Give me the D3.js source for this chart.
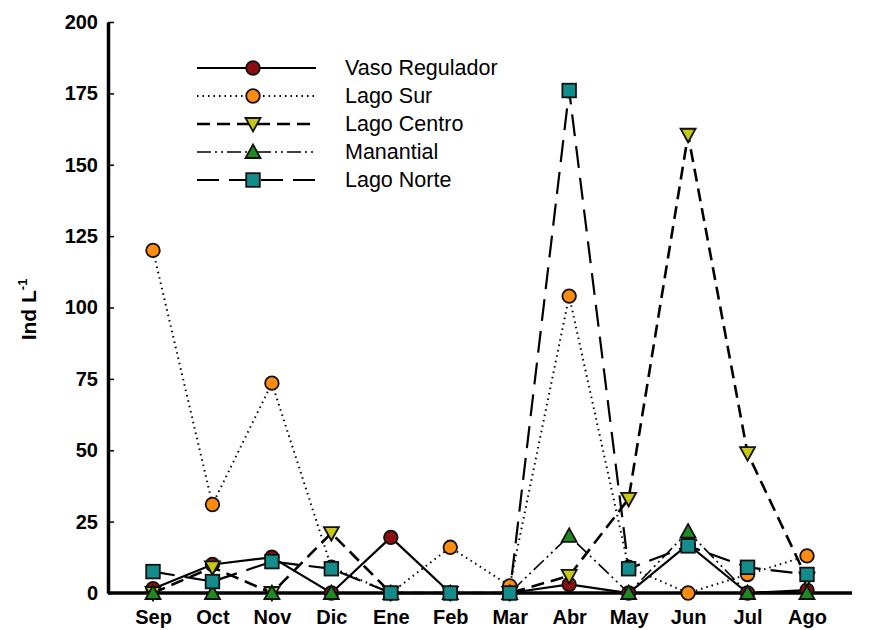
<!DOCTYPE html>
<html>
<head>
<meta charset="utf-8">
<script src="https://cdn.jsdelivr.net/npm/d3@7"></script>
<style>
  body { margin: 0; background: #fff; }
  svg { font-family: "Liberation Sans", Arial, sans-serif; }
</style>
</head>
<body>
<div id="chart"></div>
<script>
// ---------- data ----------
const months = ["Sep", "Oct", "Nov", "Dic", "Ene", "Feb", "Mar", "Abr", "May", "Jun", "Jul", "Ago"];
const yTicks = [0, 25, 50, 75, 100, 125, 150, 175, 200];

const vasoRegulador = [1.5, 10, 12.5, 0, 19.5, 0, 0, 3, 0, 17, 0, 1];
const lagoSur       = [120, 31, 73.5, 9, 0, 16, 2.5, 104, 9, 0, 6.5, 13];
const lagoCentro    = [0, 9, 0, 21, 0, 0, 0, 6, 33, 160.5, 49, 5];
const manantial     = [0, 0, 0, 0, 0, 0, 0, 20, 0, 21.5, 0, 0];
const lagoNorte     = [7.5, 4, 11, 8.5, 0, 0, 0, 176, 8.5, 16.5, 9, 6.5];

const series = [
  { name: "Vaso Regulador", values: vasoRegulador, color: "#8b0f0f", shape: "circle",   dash: null,                width: 2.2 },
  { name: "Lago Sur",       values: lagoSur,       color: "#ff8c10", shape: "circle",   dash: "1.5,4",             width: 2 },
  { name: "Lago Centro",    values: lagoCentro,    color: "#c8c814", shape: "triDown",  dash: "13,7",              width: 2.6 },
  { name: "Manantial",      values: manantial,     color: "#1f8a1f", shape: "triUp",    dash: "14,4,2,4,2,4",      width: 1.6 },
  { name: "Lago Norte",     values: lagoNorte,     color: "#138c8c", shape: "square",   dash: "22,10",             width: 2.2 }
];

// ---------- layout ----------
const W = 874, H = 630;
const plot = { left: 108, right: 852, top: 22, bottom: 593 };

const svg = d3.select("#chart").append("svg")
  .attr("width", W)
  .attr("height", H);

const x = d3.scalePoint()
  .domain(months)
  .range([plot.left, plot.right])
  .padding(0.757);

const y = d3.scaleLinear()
  .domain([0, 200])
  .range([plot.bottom, plot.top]);

// ---------- axes ----------
const yAxis = svg.append("g")
  .attr("transform", `translate(${plot.left},0)`)
  .call(d3.axisLeft(y).tickValues(yTicks).tickSizeInner(-6).tickSizeOuter(0).tickPadding(10));
yAxis.select(".domain").attr("stroke", "#000").attr("stroke-width", 3.5);
yAxis.selectAll(".tick line").attr("stroke", "#000").attr("stroke-width", 1.5);
yAxis.selectAll(".tick text")
  .attr("font-size", 20).attr("font-weight", "bold")
  .attr("font-family", "Liberation Sans, Arial, sans-serif").attr("fill", "#000");

const xAxis = svg.append("g")
  .attr("transform", `translate(0,${plot.bottom})`)
  .call(d3.axisBottom(x).tickSize(0).tickPadding(17));
xAxis.select(".domain").attr("stroke", "#000").attr("stroke-width", 3.5)
  .attr("d", `M${plot.left},0H${plot.right}`);
xAxis.selectAll(".tick text")
  .attr("font-size", 20).attr("font-weight", "bold")
  .attr("font-family", "Liberation Sans, Arial, sans-serif").attr("fill", "#000");

// y title with superscript
svg.append("text")
  .attr("transform", `translate(36,${(plot.top + plot.bottom) / 2 + 2}) rotate(-90)`)
  .attr("text-anchor", "middle")
  .attr("font-size", 21).attr("font-weight", "bold")
  .text("Ind L")
  .append("tspan").attr("dy", -9).attr("font-size", 13).text("-1");

// ---------- markers ----------
function drawMarker(g, shape, color, cx, cy) {
  const s = 7.5;
  let m;
  if (shape === "circle") {
    m = g.append("circle").attr("cx", cx).attr("cy", cy).attr("r", 6.8);
  } else if (shape === "square") {
    m = g.append("rect").attr("x", cx - 6.8).attr("y", cy - 6.8).attr("width", 13.6).attr("height", 13.6);
  } else if (shape === "triDown") {
    m = g.append("path").attr("d", `M${cx - s},${cy - 6}L${cx + s},${cy - 6}L${cx},${cy + 7.5}Z`);
  } else {
    m = g.append("path").attr("d", `M${cx - s},${cy + 6}L${cx + s},${cy + 6}L${cx},${cy - 7.5}Z`);
  }
  m.attr("fill", color).attr("stroke", "#111").attr("stroke-width", 1.8);
}

const line = d3.line()
  .x((d, i) => x(months[i]))
  .y(d => y(d));

series.forEach(s => {
  const g = svg.append("g").attr("class", "series");
  g.append("path")
    .attr("d", line(s.values))
    .attr("fill", "none")
    .attr("stroke", "#000")
    .attr("stroke-width", s.width)
    .attr("stroke-dasharray", s.dash);
  s.values.forEach((v, i) => drawMarker(g, s.shape, s.color, x(months[i]), y(v)));
});

// ---------- legend ----------
const legend = svg.append("g").attr("class", "legend");
const legendY = d3.scalePoint().domain(series.map(s => s.name)).range([68, 180]);
series.forEach(s => {
  const ly = legendY(s.name);
  legend.append("line")
    .attr("x1", 197).attr("x2", 316).attr("y1", ly).attr("y2", ly)
    .attr("stroke", "#000").attr("stroke-width", s.width)
    .attr("stroke-dasharray", s.dash);
  drawMarker(legend, s.shape, s.color, 253, ly);
  legend.append("text")
    .attr("x", 345).attr("y", ly + 7)
    .attr("font-size", 21.5)
    .text(s.name);
});
</script>
</body>
</html>
